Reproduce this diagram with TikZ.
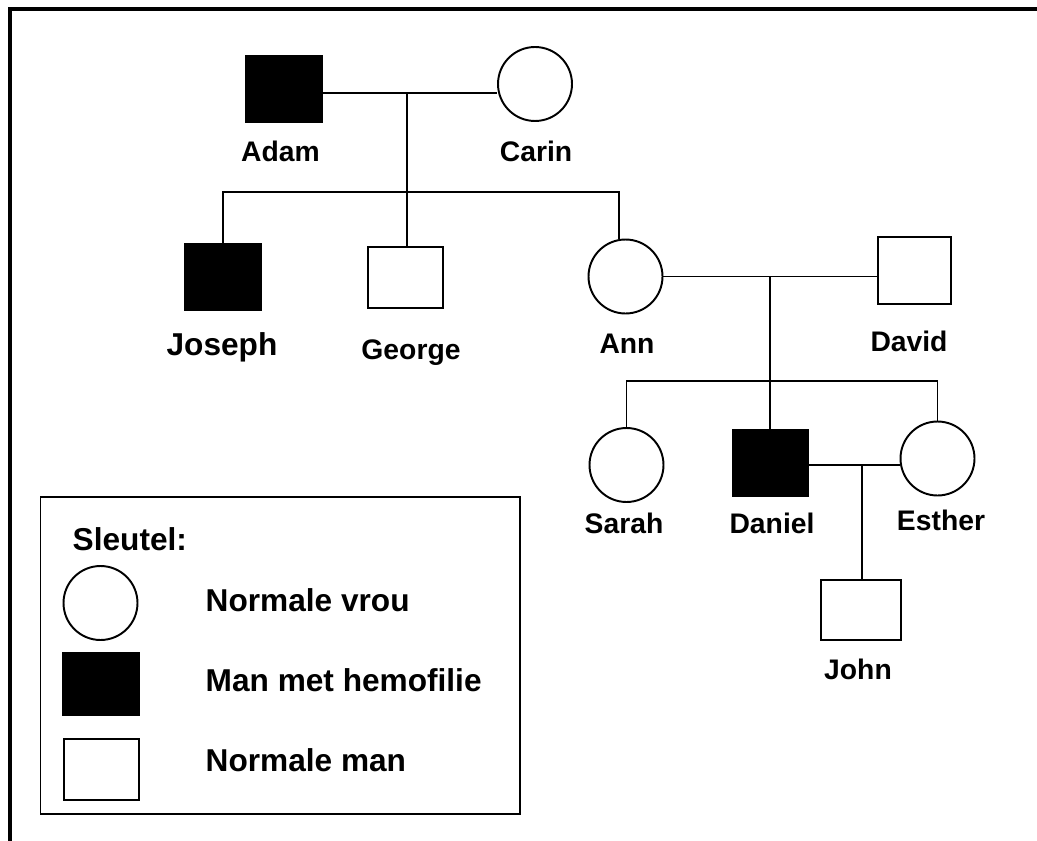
\documentclass[tikz,border=0pt]{standalone}
\usepackage{fontspec}
\setmainfont{Liberation Sans}
\usetikzlibrary{calc}

\begin{document}
\begin{tikzpicture}[x=0.02cm, y=-0.02cm, line width=0.85pt,
                female/.style={circle, draw, line width=1.1pt, minimum size=1.48cm, inner sep=0pt},
                male/.style={rectangle, draw, line width=1.1pt, minimum width=1.52cm, minimum height=1.32cm, inner sep=0pt},
                affected/.style={male, fill=black},
                lbl/.style={anchor=base, inner sep=0pt, font=\fontsize{16.1}{19}\selectfont\bfseries},
                keytext/.style={anchor=base west, inner sep=0pt, font=\fontsize{18}{21}\selectfont\bfseries}]
        \useasboundingbox (0,0) rectangle (1037,841);
        \draw[line width=2.3pt] (10,841) -- (10,9) -- (1037,9);

        \node[affected] (adam) at (284,89) {};
        \node[female] (carin) at (535,84) {};
        \node[affected] (joseph) at (223,277) {};
        \node[male, minimum width=1.5cm, minimum height=1.22cm] (george) at (405.5,277.5) {};
        \node[female] (ann) at (625.5,276.5) {};
        \node[male, minimum width=1.46cm, minimum height=1.34cm] (david) at (914.5,270.5) {};
        \node[female] (sarah) at (626.5,465) {};
        \node[affected] (daniel) at (770.5,463) {};
        \node[female] (esther) at (937.5,458.5) {};
        \node[male, minimum width=1.6cm, minimum height=1.2cm] (john) at (861,610) {};

        \node[lbl] (adamname) at (280.5,162) {Adam};
        \node[lbl] (carinname) at (536,162) {Carin};
        \node[lbl, font=\fontsize{18}{21}\selectfont\bfseries] (josephname) at (222,355) {Joseph};
        \node[lbl] (georgename) at (411,359) {George};
        \node[lbl] (annname) at (627,353) {Ann};
        \node[lbl] (davidname) at (909,351) {David};
        \node[lbl] (sarahname) at (624,533) {Sarah};
        \node[lbl] (danielname) at (772,533) {Daniel};
        \node[lbl] (esthername) at (941,530) {Esther};
        \node[lbl] (johnname) at (858,679) {John};

        \coordinate (m1) at (407,93);
        \coordinate (bar1) at (407,192);
        \coordinate (annup) at (619,192);
        \coordinate (m2) at (770,276);
        \coordinate (bar2) at (770,381);
        \coordinate (m3) at (862,465);

        \draw (adam.east |- m1) -- (carin.west |- m1);
        \draw (m1) -- (m1 |- george.north);
        \draw (joseph.north) |- (annup) -- (annup |- ann.north);
        \draw (ann.east) -- (david.west |- ann.east);
        \draw (m2) -- (bar2);
        \draw (sarah.north) |- (bar2) -| (esther.north);
        \draw (bar2) -- (bar2 |- daniel.north);
        \draw (daniel.east |- m3) -- (esther.west |- m3);
        \draw (m3) -- (m3 |- john.north);

        \draw[line width=1.1pt] (40.5,497) rectangle (520,814);
        \node[keytext] (keytitle) at (72,550) {Sleutel:};
        \node[female] (keyfemale) at (100.5,603) {};
        \node[affected, minimum height=1.24cm] (keyaffected) at (101,684) {};
        \node[male, minimum width=1.5cm, minimum height=1.22cm] (keymale) at (101.5,769.5) {};
        \node[keytext] (femaletext) at (205,611) {Normale vrou};
        \node[keytext] (affectedtext) at (205,691) {Man met hemofilie};
        \node[keytext] (maletext) at (205,771) {Normale man};
\end{tikzpicture}
\end{document}
